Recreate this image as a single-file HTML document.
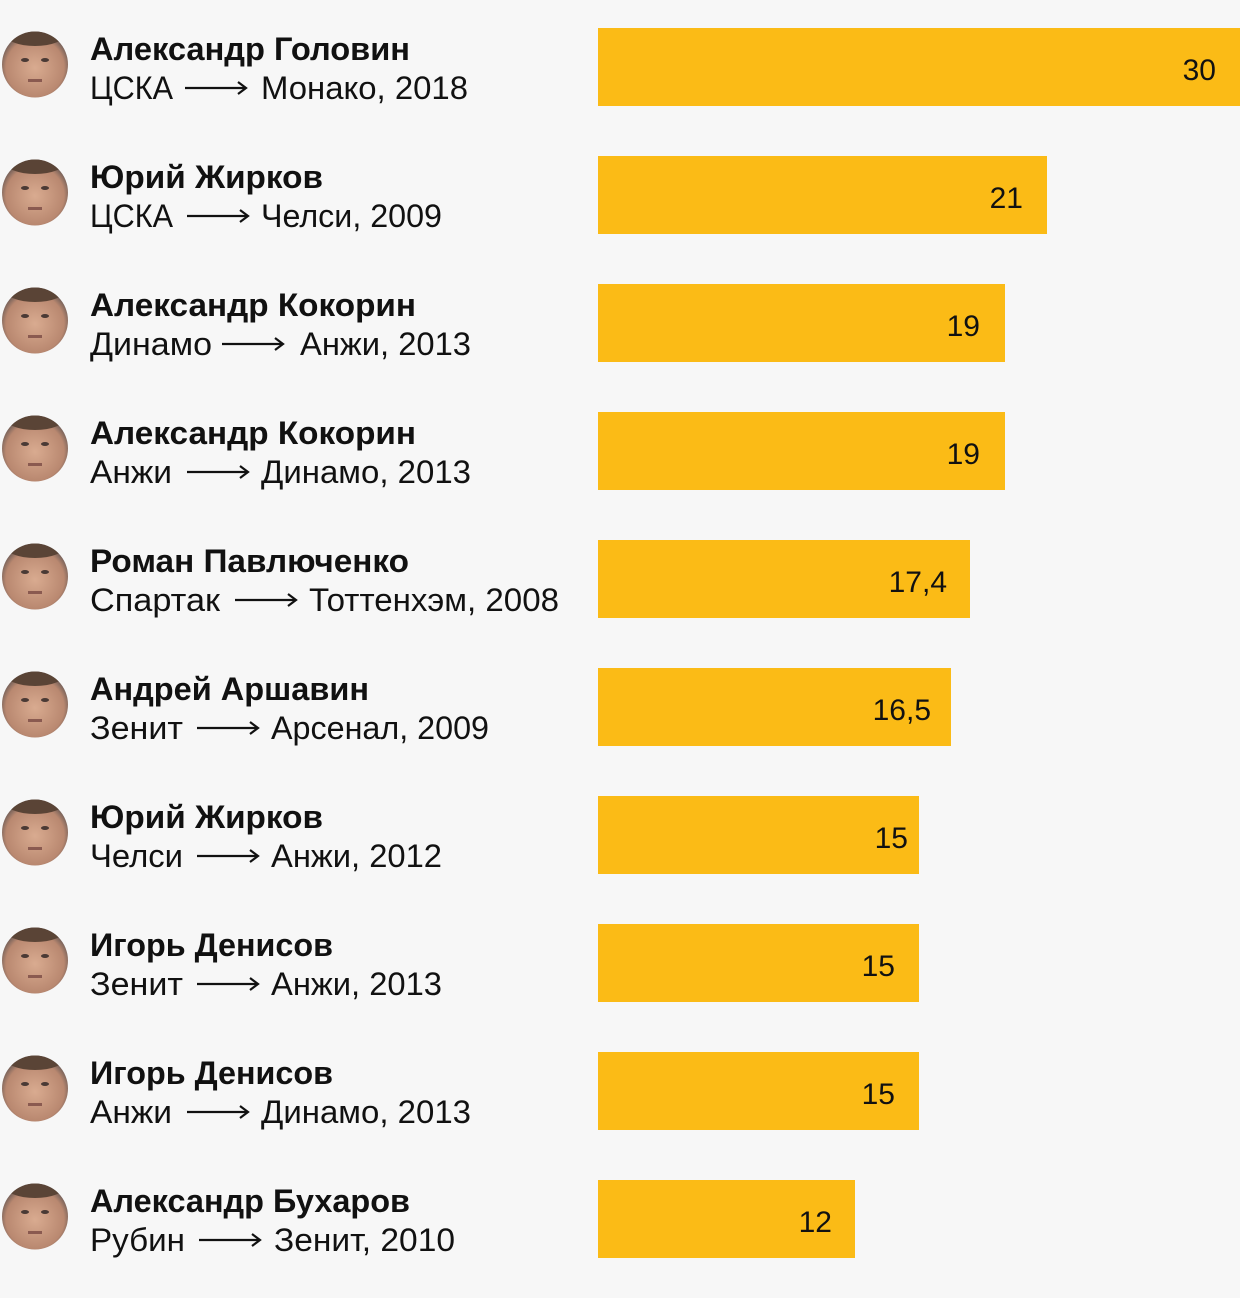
<!DOCTYPE html>
<html><head><meta charset="utf-8"><style>
html,body{margin:0;padding:0;background:#f7f7f7}
svg{display:block}
text{font-family:"Liberation Sans","DejaVu Sans",sans-serif;fill:#111}
.n{font-weight:bold;font-size:32px}
.s{font-size:32px}
.v{font-size:30px;text-anchor:end}
</style></head><body>
<svg width="1240" height="1298" viewBox="0 0 1240 1298" xmlns="http://www.w3.org/2000/svg">
<defs>
<radialGradient id="sk" cx="50%" cy="55%" r="55%"><stop offset="0" stop-color="#d9ab90"/><stop offset="0.8" stop-color="#b98870"/><stop offset="1" stop-color="#6a5a55"/></radialGradient>
<clipPath id="cc"><circle cx="35" cy="64.5" r="33"/></clipPath>
<g id="av"><circle cx="35" cy="64.5" r="33" fill="url(#sk)"/><g clip-path="url(#cc)"><ellipse cx="35" cy="34" rx="30" ry="12" fill="#5a4436"/><ellipse cx="25" cy="60" rx="4" ry="2" fill="#4a3a35"/><ellipse cx="45" cy="60" rx="4" ry="2" fill="#4a3a35"/><rect x="28" y="79" width="14" height="3" fill="#8a5a50"/></g></g>
<g id="ar"><line x1="0" y1="0" x2="60" y2="0" stroke="#111" stroke-width="2.2"/><polyline points="53,-6 61,0 53,6" fill="none" stroke="#111" stroke-width="2.2"/></g>
</defs>
<rect width="1240" height="1298" fill="#f7f7f7"/>

<g>
<use href="#av"/>
<text class="n" x="90" y="60" textLength="320" lengthAdjust="spacingAndGlyphs">Александр Головин</text>
<text class="s" x="90" y="99" textLength="83" lengthAdjust="spacingAndGlyphs">ЦСКА</text>
<use href="#ar" x="185" y="88"/>
<text class="s" x="261" y="99" textLength="207" lengthAdjust="spacingAndGlyphs">Монако, 2018</text>
<rect x="598" y="28" width="642" height="78" fill="#fbbb16"/>
<text class="v" x="1216" y="80">30</text>
</g>

<g transform="translate(0,128)">
<use href="#av"/>
<text class="n" x="90" y="60" textLength="233" lengthAdjust="spacingAndGlyphs">Юрий Жирков</text>
<text class="s" x="90" y="99" textLength="83" lengthAdjust="spacingAndGlyphs">ЦСКА</text>
<use href="#ar" x="187" y="88"/>
<text class="s" x="261" y="99" textLength="181" lengthAdjust="spacingAndGlyphs">Челси, 2009</text>
<rect x="598" y="28" width="449" height="78" fill="#fbbb16"/>
<text class="v" x="1023" y="80">21</text>
</g>

<g transform="translate(0,256)">
<use href="#av"/>
<text class="n" x="90" y="60" textLength="326" lengthAdjust="spacingAndGlyphs">Александр Кокорин</text>
<text class="s" x="90" y="99" textLength="122" lengthAdjust="spacingAndGlyphs">Динамо</text>
<use href="#ar" x="222" y="88"/>
<text class="s" x="300" y="99" textLength="171" lengthAdjust="spacingAndGlyphs">Анжи, 2013</text>
<rect x="598" y="28" width="407" height="78" fill="#fbbb16"/>
<text class="v" x="980" y="80">19</text>
</g>

<g transform="translate(0,384)">
<use href="#av"/>
<text class="n" x="90" y="60" textLength="326" lengthAdjust="spacingAndGlyphs">Александр Кокорин</text>
<text class="s" x="90" y="99" textLength="82" lengthAdjust="spacingAndGlyphs">Анжи</text>
<use href="#ar" x="187" y="88"/>
<text class="s" x="261" y="99" textLength="210" lengthAdjust="spacingAndGlyphs">Динамо, 2013</text>
<rect x="598" y="28" width="407" height="78" fill="#fbbb16"/>
<text class="v" x="980" y="80">19</text>
</g>

<g transform="translate(0,512)">
<use href="#av"/>
<text class="n" x="90" y="60" textLength="319" lengthAdjust="spacingAndGlyphs">Роман Павлюченко</text>
<text class="s" x="90" y="99" textLength="130" lengthAdjust="spacingAndGlyphs">Спартак</text>
<use href="#ar" x="235" y="88"/>
<text class="s" x="309" y="99" textLength="250" lengthAdjust="spacingAndGlyphs">Тоттенхэм, 2008</text>
<rect x="598" y="28" width="372" height="78" fill="#fbbb16"/>
<text class="v" x="947" y="80">17,4</text>
</g>

<g transform="translate(0,640)">
<use href="#av"/>
<text class="n" x="90" y="60" textLength="279" lengthAdjust="spacingAndGlyphs">Андрей Аршавин</text>
<text class="s" x="90" y="99" textLength="93" lengthAdjust="spacingAndGlyphs">Зенит</text>
<use href="#ar" x="197" y="88"/>
<text class="s" x="271" y="99" textLength="218" lengthAdjust="spacingAndGlyphs">Арсенал, 2009</text>
<rect x="598" y="28" width="353" height="78" fill="#fbbb16"/>
<text class="v" x="931" y="80">16,5</text>
</g>

<g transform="translate(0,768)">
<use href="#av"/>
<text class="n" x="90" y="60" textLength="233" lengthAdjust="spacingAndGlyphs">Юрий Жирков</text>
<text class="s" x="90" y="99" textLength="93" lengthAdjust="spacingAndGlyphs">Челси</text>
<use href="#ar" x="197" y="88"/>
<text class="s" x="271" y="99" textLength="171" lengthAdjust="spacingAndGlyphs">Анжи, 2012</text>
<rect x="598" y="28" width="321" height="78" fill="#fbbb16"/>
<text class="v" x="908" y="80">15</text>
</g>

<g transform="translate(0,896)">
<use href="#av"/>
<text class="n" x="90" y="60" textLength="243" lengthAdjust="spacingAndGlyphs">Игорь Денисов</text>
<text class="s" x="90" y="99" textLength="93" lengthAdjust="spacingAndGlyphs">Зенит</text>
<use href="#ar" x="197" y="88"/>
<text class="s" x="271" y="99" textLength="171" lengthAdjust="spacingAndGlyphs">Анжи, 2013</text>
<rect x="598" y="28" width="321" height="78" fill="#fbbb16"/>
<text class="v" x="895" y="80">15</text>
</g>

<g transform="translate(0,1024)">
<use href="#av"/>
<text class="n" x="90" y="60" textLength="243" lengthAdjust="spacingAndGlyphs">Игорь Денисов</text>
<text class="s" x="90" y="99" textLength="82" lengthAdjust="spacingAndGlyphs">Анжи</text>
<use href="#ar" x="187" y="88"/>
<text class="s" x="261" y="99" textLength="210" lengthAdjust="spacingAndGlyphs">Динамо, 2013</text>
<rect x="598" y="28" width="321" height="78" fill="#fbbb16"/>
<text class="v" x="895" y="80">15</text>
</g>

<g transform="translate(0,1152)">
<use href="#av"/>
<text class="n" x="90" y="60" textLength="320" lengthAdjust="spacingAndGlyphs">Александр Бухаров</text>
<text class="s" x="90" y="99" textLength="95" lengthAdjust="spacingAndGlyphs">Рубин</text>
<use href="#ar" x="199" y="88"/>
<text class="s" x="274" y="99" textLength="181" lengthAdjust="spacingAndGlyphs">Зенит, 2010</text>
<rect x="598" y="28" width="257" height="78" fill="#fbbb16"/>
<text class="v" x="832" y="80">12</text>
</g>
</svg>
</body></html>
